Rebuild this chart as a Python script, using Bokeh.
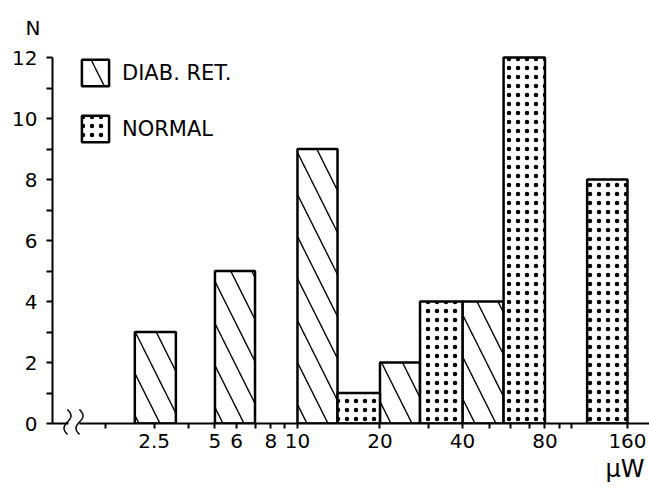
import numpy as np
from bokeh.plotting import figure
from bokeh.models import FixedTicker, Range1d, Legend, LegendItem, Title
from bokeh.embed import file_html
from bokeh.resources import INLINE

# ---- data ----
dr_left = [2.55, 5, 10, 20, 40]
dr_right = [3.6, 7, 14, 28, 56.5]
dr_count = [3, 5, 9, 2, 4]

nm_left = [14, 28, 56.5, 114]
nm_right = [20, 40, 80, 160]
nm_count = [1, 4, 12, 8]

x_major_ticks = [3, 5, 6, 8, 10, 20, 40, 80, 160]
x_major_labels = ["2.5", "5", "6", "8", "10", "20", "40", "80", "160"]
x_minor_ticks = [2, 4, 7, 9, 30, 50, 60, 70, 90, 100]
y_major_ticks = [0, 2, 4, 6, 8, 10, 12]
y_minor_ticks = [1, 3, 5, 7, 9, 11]

series_names = ["DIAB. RET.", "NORMAL"]
y_title = "N"
x_title = "\u00b5W"

FONT = "DejaVu Sans"
X0, X1 = 1.277, 192.5
Y0, Y1 = 0, 12.1

p = figure(width=649, height=491, x_axis_type="log",
           x_range=Range1d(X0, X1), y_range=Range1d(Y0, Y1),
           output_backend="svg", toolbar_location=None,
           min_border_left=52, min_border_right=0,
           min_border_top=54, min_border_bottom=68)
p.outline_line_color = None
p.xgrid.visible = False
p.ygrid.visible = False
p.background_fill_color = "white"
p.border_fill_color = "white"

r_dr = p.quad(left=dr_left, right=dr_right, bottom=0, top=dr_count,
              fill_color="white", line_color="black", line_width=2.5,
              hatch_pattern="left_diagonal_line", hatch_scale=42,
              hatch_weight=1.4, hatch_color="black")
r_nm = p.quad(left=nm_left, right=nm_right, bottom=0, top=nm_count,
              fill_color="white", line_color="black", line_width=2.5,
              hatch_pattern="dot", hatch_scale=9, hatch_weight=0.4,
              hatch_color="black")

# axes
xa = p.xaxis[0]
xa.ticker = FixedTicker(ticks=x_major_ticks, minor_ticks=x_minor_ticks)
xa.major_label_overrides = {t: l for t, l in zip(x_major_ticks, x_major_labels)}
ya = p.yaxis[0]
ya.ticker = FixedTicker(ticks=y_major_ticks, minor_ticks=y_minor_ticks)
ya.bounds = (0, 12)
for ax in (xa, ya):
    ax.axis_line_width = 2
    ax.axis_line_color = "black"
    ax.major_tick_line_width = 2
    ax.minor_tick_line_width = 2
    ax.major_tick_in = 0
    ax.minor_tick_in = 0
    ax.major_label_text_font = FONT
    ax.major_label_text_color = "black"
    ax.major_label_text_font_size = "20px"
xa.major_tick_out = 5
xa.minor_tick_out = 5
xa.major_label_standoff = 5
ya.major_tick_out = 6
ya.minor_tick_out = 6
ya.major_label_standoff = 9

# legend
legend = Legend(items=[LegendItem(label=series_names[0], renderers=[r_dr]),
                       LegendItem(label=series_names[1], renderers=[r_nm])],
                location=(26, 278), orientation="vertical")
legend.glyph_width = 34
legend.glyph_height = 33
legend.spacing = 23
legend.padding = 0
legend.margin = 0
legend.label_standoff = 10
legend.label_text_font = FONT
legend.label_text_font_size = "21px"
legend.label_text_color = "black"
legend.border_line_color = None
legend.background_fill_alpha = 0
p.add_layout(legend, "center")

# axis names
p.add_layout(Title(text=y_title, align="left", offset=-27, standoff=26,
                   vertical_align="top",
                   text_font=FONT, text_font_size="20px",
                   text_font_style="normal", text_color="black"), "above")
p.add_layout(Title(text=x_title, align="right", offset=5, standoff=4,
                   text_font=FONT, text_font_size="24px",
                   text_font_style="normal", text_color="black"), "below")

# axis break decoration (screen-px helpers)
def px2x(px):
    return X0 * (X1 / X0) ** ((px - 52) / 597.0)

def py2y(py):
    return (423 - py) / 369.0 * 12.1

p.quad(left=[px2x(68)], right=[px2x(79)], bottom=[py2y(428)], top=[py2y(418)],
       fill_color="white", line_color=None, level="overlay")
t = np.linspace(0, 1, 40)
for xc in (67, 79):
    xs = [px2x(xc + 3.5 * np.sin(2 * np.pi * tt)) for tt in t]
    ys = [py2y(409 + 25 * tt) for tt in t]
    p.line(xs, ys, line_color="black", line_width=1.5, level="overlay")

open("out.html", "w").write(file_html(p, INLINE))
